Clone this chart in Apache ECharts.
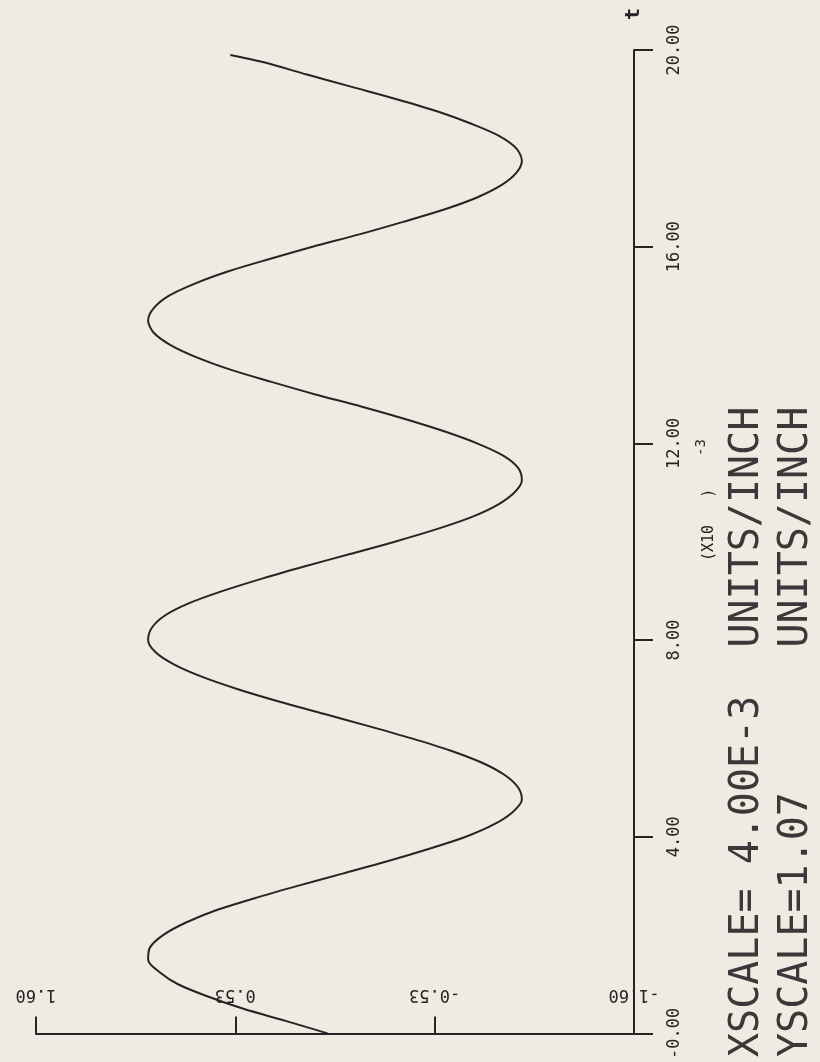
<!DOCTYPE html>
<html>
<head>
<meta charset="utf-8">
<script src="https://cdn.jsdelivr.net/npm/echarts@6/dist/echarts.min.js"></script>
<style>
  html, body { margin: 0; padding: 0; background: #eeebe2; }
  #chart { width: 820px; height: 1062px; }
</style>
</head>
<body>
<div id="chart"></div>
<script>
// time samples (x10^-3)
const tValues = [
  0, 0.25, 0.5, 0.75, 1, 1.25, 1.5, 1.75, 2, 2.25,
  2.5, 2.75, 3, 3.25, 3.5, 3.75, 4, 4.25, 4.5, 4.75,
  5, 5.25, 5.5, 5.75, 6, 6.25, 6.5, 6.75, 7, 7.25,
  7.5, 7.75, 8, 8.25, 8.5, 8.75, 9, 9.25, 9.5, 9.75,
  10, 10.25, 10.5, 10.75, 11, 11.25, 11.5, 11.75, 12, 12.25,
  12.5, 12.75, 13, 13.25, 13.5, 13.75, 14, 14.25, 14.5, 14.75,
  15, 15.25, 15.5, 15.75, 16, 16.25, 16.5, 16.75, 17, 17.25,
  17.5, 17.75, 18, 18.25, 18.5, 18.75, 19, 19.25, 19.5, 19.75,
  19.9
];
// signal values
const yValues = [
  0.04, 0.26, 0.49, 0.68, 0.84, 0.94, 1.00, 0.99, 0.92, 0.80,
  0.64, 0.43, 0.20, -0.04, -0.28, -0.50, -0.70, -0.85, -0.95, -1.00,
  -0.98, -0.91, -0.79, -0.62, -0.41, -0.18, 0.06, 0.30, 0.52, 0.71,
  0.86, 0.96, 1.00, 0.98, 0.91, 0.78, 0.60, 0.39, 0.16, -0.08,
  -0.32, -0.54, -0.73, -0.87, -0.96, -1.00, -0.98, -0.90, -0.76, -0.58,
  -0.37, -0.14, 0.11, 0.34, 0.56, 0.74, 0.88, 0.97, 1.00, 0.97,
  0.89, 0.75, 0.57, 0.35, 0.12, -0.13, -0.36, -0.58, -0.76, -0.89,
  -0.97, -1.00, -0.97, -0.88, -0.73, -0.55, -0.33, -0.09, 0.15, 0.38,
  0.56
];
// value-axis ticks and labels
const yTickValues = [1.6, 0.53333, -0.53333, -1.6];
const yTickLabels = ['1.60', '0.53', '-0.53', '-1.60'];
// time-axis ticks and labels
const tTickValues = [0, 4, 8, 12, 16, 20];
const tTickLabels = ['-0.00', '4.00', '8.00', '12.00', '16.00', '20.00'];
const tAxisName = 't';
const multiplierText = '(X10   )';
const exponentText = '-3';
const scaleLines = ['XSCALE= 4.00E-3  UNITS/INCH', 'YSCALE=1.07      UNITS/INCH'];

const INK = '#262424';
const FONT = 'DejaVu Sans Mono';

const seriesData = tValues.map((t, i) => [yValues[i], t]);

const chart = echarts.init(document.getElementById('chart'), null, { renderer: 'canvas' });
chart.setOption({
  animation: false,
  backgroundColor: '#eeebe2',
  grid: { left: 36, right: 186, top: 50, bottom: 22, containLabel: false },
  xAxis: {
    type: 'value',
    min: -1.6,
    max: 1.6,
    inverse: true,
    position: 'bottom',
    splitLine: { show: false },
    axisLine: { show: true, onZero: false, lineStyle: { color: INK, width: 2 } },
    axisTick: {
      show: true, inside: true, length: 17,
      customValues: yTickValues,
      lineStyle: { color: INK, width: 2 }
    },
    axisLabel: {
      inside: true,
      rotate: 180,
      margin: 30,
      customValues: yTickValues,
      formatter: (v) => {
        const idx = yTickValues.findIndex(x => Math.abs(x - v) < 1e-3);
        return idx >= 0 ? yTickLabels[idx] : '';
      },
      fontFamily: FONT, fontSize: 17, color: INK,
      showMinLabel: true, showMaxLabel: true
    }
  },
  yAxis: {
    type: 'value',
    min: 0,
    max: 20,
    interval: 4,
    position: 'right',
    name: tAxisName,
    nameLocation: 'end',
    nameGap: 30,
    nameRotate: 90,
    nameTextStyle: { fontFamily: FONT, fontSize: 20, fontWeight: 'bold', color: INK },
    splitLine: { show: false },
    axisLine: { show: true, onZero: false, lineStyle: { color: INK, width: 2 } },
    axisTick: { show: true, inside: false, length: 19, lineStyle: { color: INK, width: 2 } },
    axisLabel: {
      rotate: 90,
      margin: 32,
      formatter: (v) => {
        const idx = tTickValues.indexOf(v);
        return idx >= 0 ? tTickLabels[idx] : '';
      },
      fontFamily: FONT, fontSize: 17, color: INK,
      showMinLabel: true, showMaxLabel: true
    }
  },
  graphic: [
    {
      type: 'text', x: 709, y: 561, rotation: Math.PI / 2,
      style: { text: multiplierText, font: '15px ' + FONT, fill: INK, align: 'left', verticalAlign: 'middle' }
    },
    {
      type: 'text', x: 701, y: 456, rotation: Math.PI / 2,
      style: { text: exponentText, font: '14px ' + FONT, fill: INK, align: 'left', verticalAlign: 'middle' }
    },
    {
      type: 'text', x: 748, y: 1057, rotation: Math.PI / 2,
      style: { text: scaleLines[0], font: '40px ' + FONT, fill: '#3a3838', align: 'left', verticalAlign: 'middle' }
    },
    {
      type: 'text', x: 797, y: 1057, rotation: Math.PI / 2,
      style: { text: scaleLines[1], font: '40px ' + FONT, fill: '#3a3838', align: 'left', verticalAlign: 'middle' }
    }
  ],
  series: [{
    type: 'line',
    data: seriesData,
    showSymbol: false,
    smooth: 0.3,
    lineStyle: { color: INK, width: 2 },
    silent: true
  }]
});
</script>
</body>
</html>
